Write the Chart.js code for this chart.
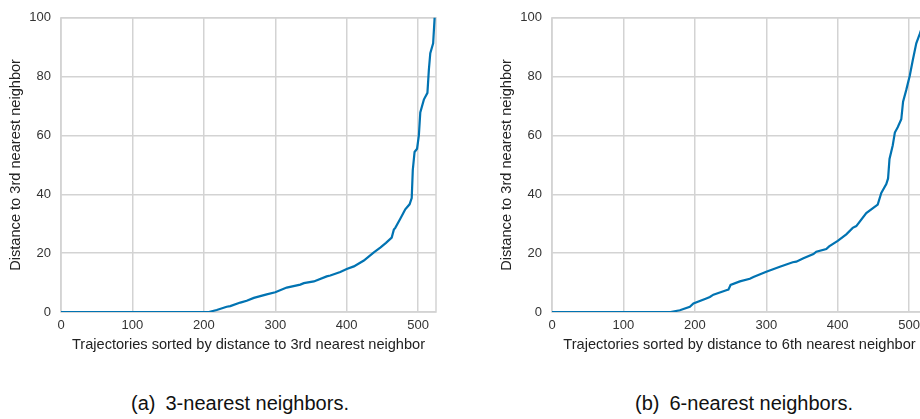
<!DOCTYPE html>
<html>
<head>
<meta charset="utf-8">
<script src="https://cdn.jsdelivr.net/npm/chart.js@4/dist/chart.umd.min.js"></script>
<style>
  html, body { margin: 0; padding: 0; background: #fff; }
  body { width: 920px; height: 419px; overflow: hidden; position: relative; }
  .panel { position: absolute; top: 0; width: 440px; height: 360px; }
  .caption {
    position: absolute; top: 391px; width: 400px; text-align: center;
    font-family: "Liberation Sans", Arial, sans-serif; font-size: 20px;
    line-height: 24px; color: #111;
  }
</style>
</head>
<body>
<div class="panel" style="left:0px"><canvas id="chart3" width="440" height="360"></canvas></div>
<div class="panel" style="left:491px"><canvas id="chart6" width="440" height="360"></canvas></div>
<div class="caption" style="left:40px">(a)&ensp;3-nearest neighbors.</div>
<div class="caption" style="left:544px">(b)&ensp;6-nearest neighbors.</div>

<script>
// sorted k-distance curves
const rank3 = [0, 207, 218, 232, 237, 251, 260, 270, 288, 300, 316, 335, 340, 354, 372, 377, 391, 400, 410, 424,
  438, 447, 455, 463, 466, 468, 475, 480, 482, 488, 491, 492.5, 495, 498.5, 501, 503, 508, 513, 515, 517, 521, 523, 524];
const dist3 = [0, 0, 0.7, 1.8, 2.0, 3.2, 3.8, 4.8, 6.0, 6.7, 8.3, 9.3, 9.8, 10.4, 12.1, 12.4, 13.6, 14.6, 15.5, 17.5,
  20.3, 21.9, 23.5, 25.3, 28.0, 28.6, 31.7, 34.0, 34.9, 36.6, 38.7, 48.2, 54.4, 55.5, 60, 67.8, 72.2, 74.5, 82.3, 88, 91.3, 99.7, 104];

const rank6 = [0, 166, 179, 193, 198, 216, 221, 226, 244, 247, 250, 263, 277, 282, 300, 319, 337, 342, 352, 366, 370,
  384, 388, 400, 412, 421, 426, 440, 456, 461, 468, 470.5, 472.5, 477, 480, 484, 489, 491.5, 496, 501, 505, 510, 515, 519, 524];
const dist6 = [0, 0, 0.6, 1.8, 2.9, 4.6, 5.1, 5.9, 7.4, 7.6, 9.2, 10.4, 11.3, 11.9, 13.7, 15.4, 16.9, 17.1, 18.3, 19.7, 20.5,
  21.4, 22.3, 24.2, 26.4, 28.6, 29.2, 33.6, 36.5, 40.5, 43.5, 45.4, 52, 56.6, 61, 62.8, 65.5, 71.5, 75.5, 80.5, 85.5, 91.3, 94.6, 97.5, 101];

const xTicks = [0, 100, 200, 300, 400, 500];
const yTicks = [0, 20, 40, 60, 80, 100];
const xTitles = ["Trajectories sorted by distance to 3rd nearest neighbor",
                 "Trajectories sorted by distance to 6th nearest neighbor"];
const yTitle = "Distance to 3rd nearest neighbor";

const lineColor = "#0173b2";
const gridColor = "#d3d3d3";

Chart.defaults.font.family = "'Liberation Sans', Arial, Helvetica, sans-serif";
Chart.defaults.font.size = 13;
Chart.defaults.color = "#333";

// frame round the plot area (matplotlib-style spines)
const framePlugin = {
  id: "frame",
  beforeDatasetsDraw(chart) {
    const { ctx, chartArea: a } = chart;
    ctx.save();
    ctx.strokeStyle = gridColor;
    ctx.lineWidth = 1.5;
    ctx.strokeRect(a.left, a.top, a.right - a.left, a.bottom - a.top);
    ctx.restore();
  },
};

function createChart(id, xs, ys, xTitle) {
  const ctx = document.getElementById(id).getContext("2d");
  return new Chart(ctx, {
    type: "line",
    data: {
      datasets: [
        {
          data: xs.map((x, i) => ({ x: x, y: ys[i] })),
          borderColor: lineColor,
          borderWidth: 2.2,
          pointRadius: 0,
          tension: 0,
          fill: false,
        },
      ],
    },
    options: {
      responsive: false,
      animation: false,
      devicePixelRatio: 1,
      layout: { autoPadding: false, padding: { top: 14, right: 4, left: 0, bottom: 0 } },
      plugins: { legend: { display: false }, tooltip: { enabled: false } },
      scales: {
        x: {
          type: "linear",
          min: 0,
          max: 525,
          afterBuildTicks: (scale) => { scale.ticks = xTicks.map((v) => ({ value: v })); },
          afterFit: (scale) => { scale.height = 48; },
          grid: { color: gridColor, lineWidth: 1.5, drawTicks: false },
          border: { display: false },
          ticks: { padding: 6, maxRotation: 0, color: "#333" },
          title: { display: true, text: xTitle, color: "#222", font: { size: 14.6 }, padding: { top: 0, bottom: 6 } },
        },
        y: {
          min: 0,
          max: 100,
          afterBuildTicks: (scale) => { scale.ticks = yTicks.map((v) => ({ value: v })); },
          afterFit: (scale) => { scale.width = 61; },
          grid: { color: gridColor, lineWidth: 1.5, drawTicks: false },
          border: { display: false },
          ticks: { padding: 10, color: "#333" },
          title: { display: true, text: yTitle, color: "#222", font: { size: 14.6 }, padding: { top: 7, bottom: 0 } },
        },
      },
    },
    plugins: [framePlugin],
  });
}

document.addEventListener("DOMContentLoaded", () => {
  createChart("chart3", rank3, dist3, xTitles[0]);
  createChart("chart6", rank6, dist6, xTitles[1]);
});
</script>
</body>
</html>
